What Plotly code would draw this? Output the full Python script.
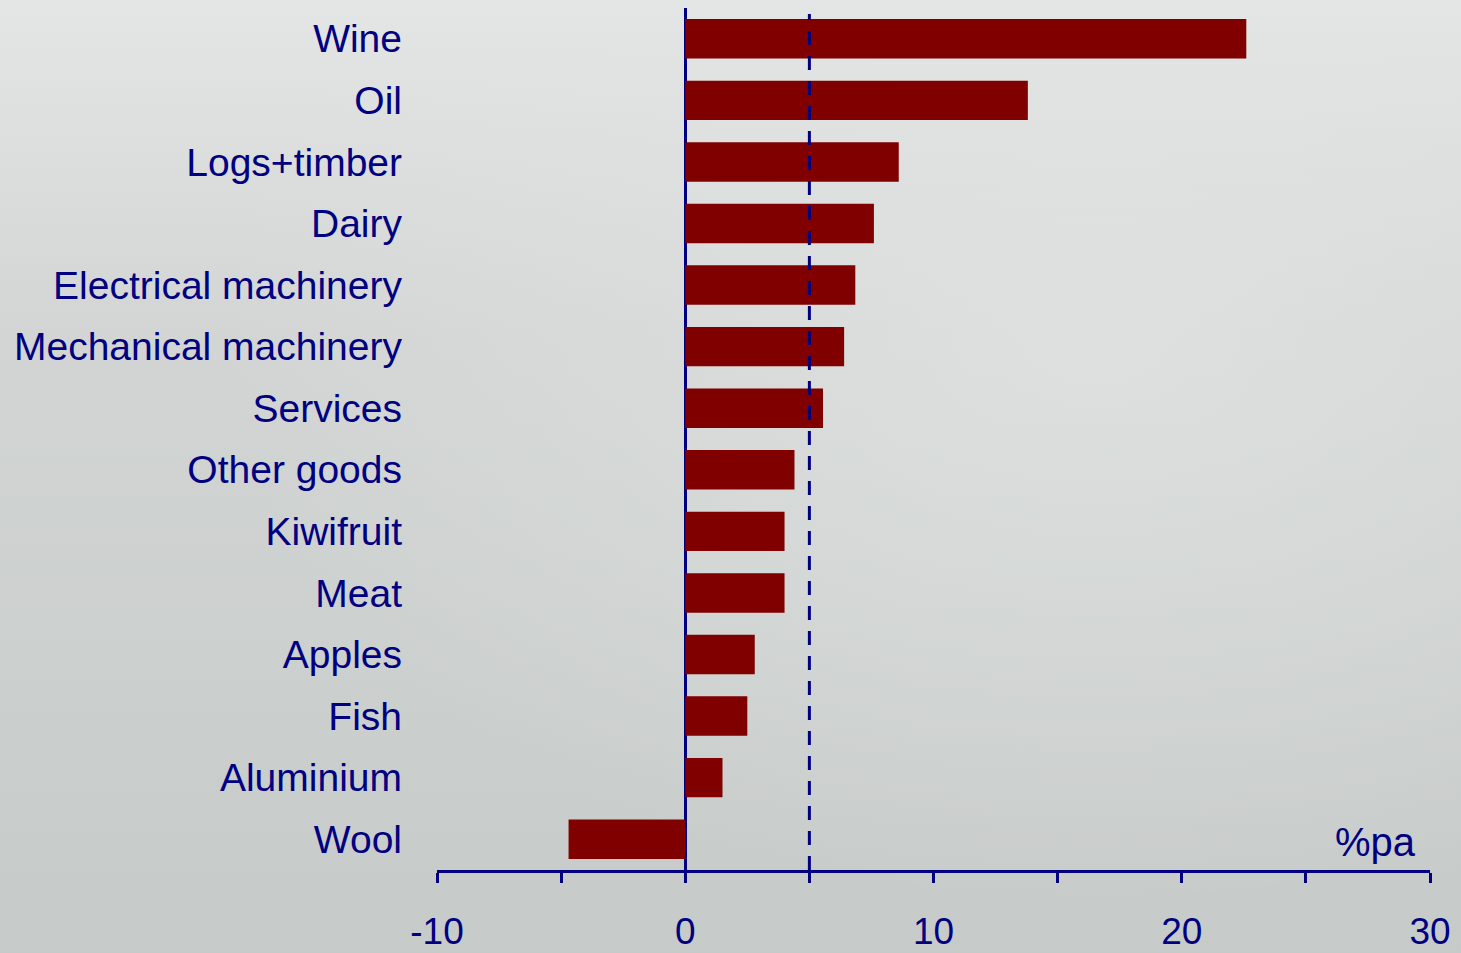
import plotly.graph_objects as go
import base64

categories = ["Wine", "Oil", "Logs+timber", "Dairy", "Electrical machinery",
              "Mechanical machinery", "Services", "Other goods", "Kiwifruit",
              "Meat", "Apples", "Fish", "Aluminium", "Wool"]
values = [22.6, 13.8, 8.6, 7.6, 6.85, 6.4, 5.55, 4.4, 4.0, 4.0, 2.8, 2.5, 1.5, -4.7]
reference_value = 5.0
tick_vals = [-10, -5, 0, 5, 10, 15, 20, 25, 30]
tick_text = ["-10", "", "0", "", "10", "", "20", "", "30"]

NAVY = "#000080"
BAR = "#800000"

svg = """<svg xmlns='http://www.w3.org/2000/svg' width='1461' height='953'>
<defs>
<linearGradient id='g' x1='0' y1='0' x2='0' y2='1'>
<stop offset='0' stop-color='#e3e6e5'/>
<stop offset='0.35' stop-color='#d2d5d4'/>
<stop offset='1' stop-color='#c6cbca'/>
</linearGradient>
<radialGradient id='r' cx='0.75' cy='0.35' r='0.6'>
<stop offset='0' stop-color='#e2e5e4' stop-opacity='0.7'/>
<stop offset='1' stop-color='#e2e5e4' stop-opacity='0'/>
</radialGradient>
</defs>
<rect width='1461' height='953' fill='url(#g)'/>
<rect width='1461' height='953' fill='url(#r)'/>
</svg>"""
bg_src = "data:image/svg+xml;base64," + base64.b64encode(svg.encode()).decode()

fig = go.Figure(go.Bar(
    x=values, y=categories, orientation="h",
    marker=dict(color=BAR, line=dict(width=0)),
    hoverinfo="skip",
))

fig.add_shape(type="line", xref="x", yref="paper",
              x0=reference_value, x1=reference_value, y0=0, y1=0.993,
              line=dict(color=NAVY, width=3, dash="14px,11px"), layer="above")

fig.add_annotation(text="%pa", xref="paper", yref="paper", x=1.0, y=0.005,
                   xanchor="right", yanchor="bottom", showarrow=False, xshift=-12,
                   font=dict(family="Liberation Sans, Arial", size=40, color=NAVY))

fig.update_layout(
    width=1461, height=953,
    margin=dict(l=437, r=31, t=8, b=83, autoexpand=False),
    paper_bgcolor="#d6d9d8",
    plot_bgcolor="rgba(0,0,0,0)",
    showlegend=False,
    bargap=0.36,
    font=dict(family="Liberation Sans, Arial", color=NAVY),
    images=[dict(source=bg_src, xref="paper", yref="paper", x=-437/993, y=1+8/862,
                 sizex=1461/993, sizey=953/862, xanchor="left", yanchor="top",
                 sizing="stretch", layer="below")],
    xaxis=dict(range=[-10, 30], tickvals=tick_vals, ticktext=tick_text,
               showgrid=False, zeroline=True, zerolinecolor=NAVY, zerolinewidth=3,
               showline=True, linecolor=NAVY, linewidth=3, automargin=False,
               ticks="outside", ticklen=10, tickwidth=3, tickcolor=NAVY,
               tickfont=dict(size=37, color=NAVY), ticklabelstandoff=17),
    yaxis=dict(categoryorder="array", categoryarray=categories[::-1],
               showgrid=False, zeroline=False, showline=False, ticks="",
               automargin=False,
               tickfont=dict(size=39, color=NAVY), ticklabelstandoff=34),
)

fig.write_html("out.html", config={"displayModeBar": False},
               post_script="document.body.style.margin='0';")
